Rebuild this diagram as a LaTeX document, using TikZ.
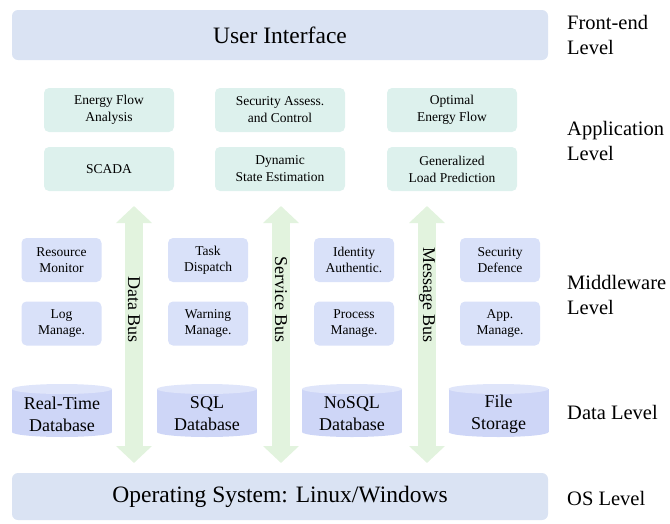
\documentclass[tikz,border=0pt]{standalone}
\usepackage{fontspec}
\setmainfont{Liberation Serif}
\usetikzlibrary{arrows.meta}
\definecolor{topblue}{RGB}{218,227,243}
\definecolor{appteal}{RGB}{221,241,237}
\definecolor{midblue}{RGB}{217,225,249}
\definecolor{cylbody}{RGB}{206,214,247}
\definecolor{cyltop}{RGB}{223,229,250}
\definecolor{busgreen}{RGB}{226,243,222}
\tikzset{
  bigbox/.style={fill=topblue, rounded corners=6pt, minimum width=536pt, minimum height=50pt, font=\fontsize{23.5}{28}\selectfont, inner sep=0pt},
  appbox/.style={fill=appteal, rounded corners=5pt, minimum width=130pt, minimum height=44pt, align=center, font=\fontsize{13.5}{17}\selectfont, inner sep=0pt},
  midbox/.style={fill=midblue, rounded corners=5pt, minimum width=80pt, minimum height=44pt, align=center, font=\fontsize{13.5}{16.5}\selectfont, inner sep=0pt},
  lvl/.style={anchor=west, align=left, font=\fontsize{20.5}{25}\selectfont, inner sep=0pt},
  bus/.style={draw=busgreen, line width=18pt, {Triangle[width=35pt,length=17pt]}-{Triangle[width=35pt,length=17pt]}},
  bustext/.style={rotate=-90, anchor=east, font=\fontsize{18}{20}\selectfont, inner sep=0pt},
  cyltext/.style={align=center, font=\fontsize{18}{22}\selectfont, inner sep=0pt},
}
\begin{document}
\begin{tikzpicture}[x=1pt, y=-1pt]
\useasboundingbox (0,0) rectangle (670,523);

% Front-end
\node[bigbox] (ui) at (280,35) {User Interface};

% Application
\node[appbox] (efa) at (109,110) {Energy Flow\\Analysis};
\node[appbox] (sac) at (280,110) {Security Assess.\\and Control};
\node[appbox] (oef) at (452,110) {Optimal\\Energy Flow};
\node[appbox] (scada) at (109,169) {SCADA};
\node[appbox] (dse) at (280,169) {Dynamic\\State Estimation};
\node[appbox] (glp) at (452,169) {Generalized\\Load Prediction};

% Buses
\coordinate (dbt) at (134,206);
\coordinate (dbb) at (134,463);
\coordinate (sbt) at (281,206);
\coordinate (sbb) at (281,463);
\coordinate (mbt) at (427,206);
\coordinate (mbb) at (427,463);
\draw[bus] (dbt) -- (dbb);
\draw[bus] (sbt) -- (sbb);
\draw[bus] (mbt) -- (mbb);
\node[bustext] (dbl) at (134,343) {Data Bus};
\node[bustext] (sbl) at (281,343) {Service Bus};
\node[bustext] (mbl) at (427,343) {Message Bus};

% Middleware
\node[midbox] (rm) at (61.5,260) {Resource\\Monitor};
\node[midbox] (td) at (208,260) {Task\\Dispatch};
\node[midbox] (ia) at (354,260) {Identity\\Authentic.};
\node[midbox] (sd) at (500,260) {Security\\Defence};
\node[midbox] (lm) at (61.5,323.5) {Log\\Manage.};
\node[midbox] (wm) at (208,323.5) {Warning\\Manage.};
\node[midbox] (pm) at (354,323.5) {Process\\Manage.};
\node[midbox] (am) at (500,323.5) {App.\\Manage.};

% Data level cylinders
\foreach \cx in {62,207,352,498.5} {
  \fill[cylbody] (\cx-50,389) rectangle (\cx+50,432);
  \fill[cylbody] (\cx,432) ellipse [x radius=50, y radius=5];
  \fill[cyltop] (\cx,389) ellipse [x radius=50, y radius=5];
}
\node[cyltext] (rtd) at (62,414) {Real-Time\\Database};
\node[cyltext] (sql) at (207,414) {SQL\\Database};
\node[cyltext] (nosql) at (352,414) {NoSQL\\Database};
\node[cyltext] (fs) at (498.5,414) {File\\Storage};

% OS
\node[bigbox, minimum height=47pt] (os) at (280,496.5) {Operating System: Linux/Windows};

% Level labels
\node[lvl] (l1) at (567,35) {Front-end\\Level};
\node[lvl] (l2) at (567,141) {Application\\Level};
\node[lvl] (l3) at (567,295) {Middleware\\Level};
\node[lvl] (l4) at (567,412) {Data Level};
\node[lvl] (l5) at (567,498) {OS Level};
\end{tikzpicture}
\end{document}
